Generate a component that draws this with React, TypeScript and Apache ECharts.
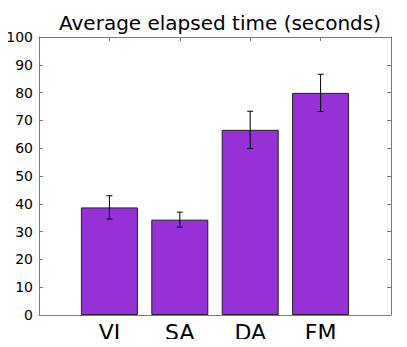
import React, { useEffect, useRef } from "react";
import * as echarts from "echarts";

const categories = ["VI", "SA", "DA", "FM"];
const means = [38.7, 34.3, 66.6, 79.9];
const errors = [4.2, 2.7, 6.7, 6.7];
const yTicks = [0, 10, 20, 30, 40, 50, 60, 70, 80, 90, 100];

const FONT = "DejaVu Sans";
const BAR_COLOR = "#9631d8";
const AXIS_COLOR = "#7a7a7a";

export default function App() {
  const ref = useRef<HTMLDivElement>(null);
  useEffect(() => {
    if (!ref.current) return;
    const chart = echarts.init(ref.current, undefined, { renderer: "svg" });
    const barData = means.map((v, i) => [i + 1, v]);
    const errData = means.map((v, i) => [i + 1, v - errors[i], v + errors[i]]);
    const xLabel = (val: number) => {
      const i = Math.round(val) - 1;
      return i >= 0 && i < categories.length && Math.abs(val - Math.round(val)) < 1e-6 ? categories[i] : "";
    };
    chart.setOption({
      animation: false,
      title: {
        text: "Average elapsed time (seconds)",
        left: 215,
        textAlign: "center",
        top: 8,
        textStyle: { fontFamily: FONT, fontSize: 20, fontWeight: "normal", color: "#000" },
      },
      grid: { left: 39, right: 16, top: 37, bottom: 32, containLabel: false },
      xAxis: [
        {
          type: "value",
          min: 0,
          max: 5,
          interval: 1,
          axisLine: { show: true, onZero: false, lineStyle: { color: AXIS_COLOR, width: 1 } },
          axisTick: { show: true, inside: true, length: 4, lineStyle: { color: AXIS_COLOR } },
          axisLabel: {
            formatter: xLabel,
            fontFamily: FONT,
            fontSize: 22,
            color: "#000",
            margin: 6,
            showMinLabel: false,
            showMaxLabel: false,
          },
          splitLine: { show: false },
        },
        {
          type: "value",
          position: "top",
          min: 0,
          max: 5,
          interval: 1,
          axisLine: { show: true, onZero: false, lineStyle: { color: AXIS_COLOR, width: 1 } },
          axisTick: { show: true, inside: true, length: 4, lineStyle: { color: AXIS_COLOR } },
          axisLabel: { show: false },
          splitLine: { show: false },
        },
      ],
      yAxis: [
        {
          type: "value",
          min: yTicks[0],
          max: yTicks[yTicks.length - 1],
          interval: 10,
          axisLine: { show: true, onZero: false, lineStyle: { color: AXIS_COLOR, width: 1 } },
          axisTick: { show: true, inside: true, length: 4, lineStyle: { color: AXIS_COLOR } },
          axisLabel: { fontFamily: FONT, fontSize: 14, color: "#000", margin: 6 },
          splitLine: { show: false },
        },
        {
          type: "value",
          position: "right",
          min: yTicks[0],
          max: yTicks[yTicks.length - 1],
          interval: 10,
          axisLine: { show: true, onZero: false, lineStyle: { color: AXIS_COLOR, width: 1 } },
          axisTick: { show: true, inside: true, length: 4, lineStyle: { color: AXIS_COLOR } },
          axisLabel: { show: false },
          splitLine: { show: false },
        },
      ],
      series: [
        {
          type: "bar",
          data: barData,
          barWidth: 57,
          itemStyle: { color: BAR_COLOR, borderColor: "#222", borderWidth: 1 },
          z: 2,
        },
        {
          type: "custom",
          data: errData,
          z: 5,
          renderItem: (params: any, api: any) => {
            const x = api.value(0);
            const lo = api.coord([x, api.value(1)]);
            const hi = api.coord([x, api.value(2)]);
            const cap = 3;
            const style = { stroke: "#000", lineWidth: 1 };
            return {
              type: "group",
              children: [
                { type: "line", shape: { x1: lo[0], y1: lo[1], x2: hi[0], y2: hi[1] }, style },
                { type: "line", shape: { x1: lo[0] - cap, y1: lo[1], x2: lo[0] + cap, y2: lo[1] }, style },
                { type: "line", shape: { x1: hi[0] - cap, y1: hi[1], x2: hi[0] + cap, y2: hi[1] }, style },
              ],
            };
          },
        },
      ],
    });
    return () => chart.dispose();
  }, []);
  return <div ref={ref} style={{ width: 407, height: 347, margin: -8 }} />;
}
